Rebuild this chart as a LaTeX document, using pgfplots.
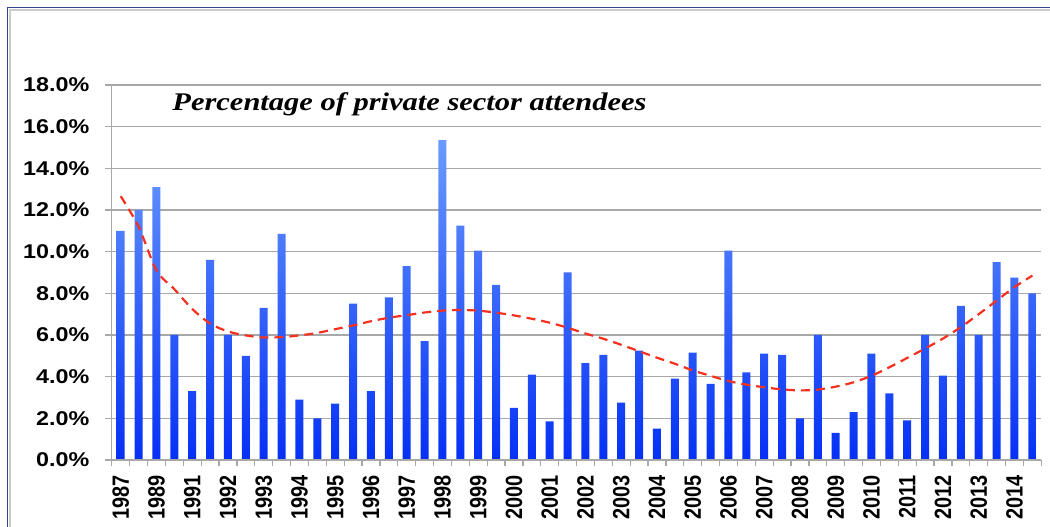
\documentclass[border=0pt]{standalone}
\usepackage{pgfplots}
\pgfplotsset{compat=1.18}
\usepackage{fontspec}
\setmainfont{Liberation Sans}
\newfontfamily\titlefont{Liberation Serif}
\definecolor{bartop}{HTML}{6A9BFF}
\definecolor{barbot}{HTML}{0530F5}
\definecolor{trend}{HTML}{F5301E}
\definecolor{gridc}{HTML}{A8A8A8}
\definecolor{framec}{HTML}{34448E}
\newcommand{\xl}[1]{\scalebox{1}[1.18]{#1}}
\begin{document}
\begin{tikzpicture}
\useasboundingbox (0,0) rectangle (1050bp,527bp);
% outer frame (top and left edges visible)
\draw[gray!40, line width=2bp] (10bp,0) -- (10bp,517bp) -- (1050bp,517bp);
\draw[framec, line width=1.5bp] (7.5bp,0) -- (7.5bp,519.5bp) -- (1050bp,519.5bp);
\begin{axis}[
  at={(111.8bp,67bp)}, anchor=south west,
  scale only axis, width=929.5bp, height=375bp,
  xmin=-0.5, xmax=51.5, ymin=0, ymax=18,
  axis line style={draw=none},
  xtick pos=bottom, ytick pos=left,
  ytick={0,2,...,18},
  ymajorgrids, grid style={gridc, line width=1.6bp},
  /pgf/number format/assume math mode=true,
  yticklabel={\scalebox{1.17}[1]{\pgfmathprintnumber[fixed,fixed zerofill,precision=1]{\tick}\%}},
  yticklabel style={font=\fontsize{20}{22}\selectfont\bfseries, xshift=-12bp},
  ytick style={gridc, line width=1.2bp},
  tick align=outside,
  major tick length=7bp,
  xtick={0,2,...,50},
  xticklabels={\xl{1987},\xl{1989},\xl{1991},\xl{1992},\xl{1993},\xl{1994},\xl{1995},\xl{1996},\xl{1997},\xl{1998},\xl{1999},\xl{2000},\xl{2001},\xl{2002},\xl{2003},\xl{2004},\xl{2005},\xl{2006},\xl{2007},\xl{2008},\xl{2009},\xl{2010},\xl{2011},\xl{2012},\xl{2013},\xl{2014}},
  xticklabel style={font=\fontsize{20}{22}\selectfont\bfseries, rotate=90, anchor=east, xshift=-5bp},
  major x tick style={draw=none},
  minor xtick={-0.5,0.5,...,51.5},
  minor x tick style={gridc, line width=1.2bp},
  minor tick length=6bp,
  clip=false,
]
\addplot[ybar, bar width=8bp, draw=none, top color=bartop, bottom color=barbot] coordinates {
(0,11.0) (1,12.0) (2,13.1) (3,6.0) (4,3.3) (5,9.6) (6,6.0) (7,5.0) (8,7.3) (9,10.85)
(10,2.9) (11,2.0) (12,2.7) (13,7.5) (14,3.3) (15,7.8) (16,9.3) (17,5.7) (18,15.35) (19,11.25)
(20,10.05) (21,8.4) (22,2.5) (23,4.1) (24,1.85) (25,9.0) (26,4.65) (27,5.05) (28,2.75) (29,5.25)
(30,1.5) (31,3.9) (32,5.15) (33,3.65) (34,10.05) (35,4.2) (36,5.1) (37,5.05) (38,2.0) (39,6.0)
(40,1.3) (41,2.3) (42,5.1) (43,3.2) (44,1.9) (45,6.0) (46,4.05) (47,7.4) (48,6.0) (49,9.5)
(50,8.75) (51,8.0)
};
\addplot[trend, line width=2.2bp, dash pattern=on 9bp off 6bp, smooth, mark=none] coordinates {
(0,12.66) (1,11.2) (2,9.1) (3,8.2) (4,7.25) (5,6.55) (6,6.17) (7,5.98) (8,5.88) (9,5.9)
(10,5.98) (11,6.1) (12,6.28) (13,6.46) (14,6.66) (15,6.83) (16,6.95) (17,7.08) (18,7.17) (19,7.2)
(20,7.17) (21,7.07) (22,6.94) (23,6.78) (24,6.59) (25,6.35) (26,6.07) (27,5.82) (28,5.53) (29,5.22)
(30,4.91) (31,4.62) (32,4.3) (33,4.04) (34,3.79) (35,3.62) (36,3.49) (37,3.39) (38,3.34) (39,3.38)
(40,3.52) (41,3.73) (42,4.04) (43,4.45) (44,4.9) (45,5.35) (46,5.83) (47,6.38) (48,7.0) (49,7.65)
(50,8.3) (51,8.85)
};
\draw[gridc, line width=1.2bp] (rel axis cs:0,0) -- (rel axis cs:0,1);
\draw[gridc, line width=1.6bp] (rel axis cs:0,0) -- (rel axis cs:1,0);
\node[anchor=west, inner sep=0pt, font=\titlefont\bfseries\itshape\fontsize{25.5}{27}\selectfont] at (rel axis cs:0.065,0.949) {\scalebox{1.2}[1]{Percentage of private sector attendees}};
\end{axis}
\end{tikzpicture}
\end{document}
